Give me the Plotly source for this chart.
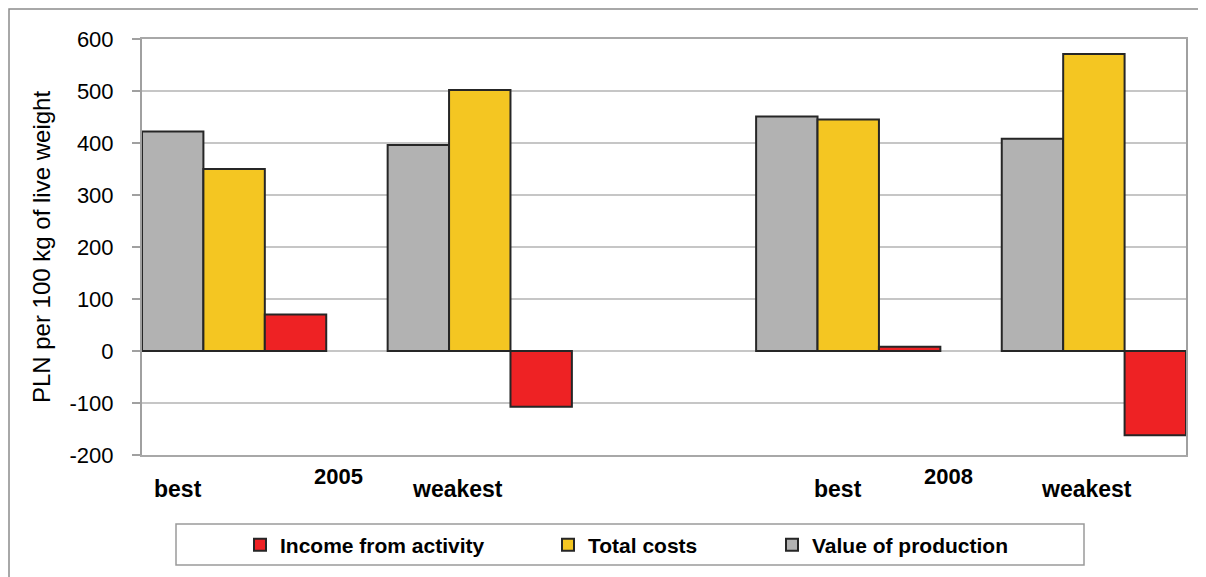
import plotly.graph_objects as go

# ---- data ----
group_labels = ["best", "weakest", "best", "weakest"]
year_labels = ["2005", "2008"]
value_of_production = [422, 396, 451, 408]
total_costs = [350, 502, 445, 571]
income_from_activity = [70, -107, 8, -162]
series_names = ["Value of production", "Total costs", "Income from activity"]
y_ticks = [-200, -100, 0, 100, 200, 300, 400, 500, 600]
y_tick_text = ["-200", "-100", "0", "100", "200", "300", "400", "500", "600"]

# ---- layout constants (positions / styles) ----
slot_centers = [0.75, 2.75, 5.75, 7.75]
group_label_x = [0.29, 2.57, 5.67, 7.69]
year_label_x = [1.60, 6.57]
colors = {"Value of production": "#B2B2B2", "Total costs": "#F4C622",
          "Income from activity": "#EE2224"}
legend_ids = {"Income from activity": "legend", "Total costs": "legend2",
              "Value of production": "legend3"}
FONT = "Liberation Sans, Arial, sans-serif"

# page body has an 8px margin: figure occupies page x 8..1206, y 8..577
PL, PT, PW, PH = 142, 39, 1044, 416  # plot area in page pixels


def px_x(p):
    return (p - PL) / PW


def px_y(p):
    return (PT + PH - p) / PH


fig = go.Figure()
for name, vals in zip(series_names,
                      [value_of_production, total_costs, income_from_activity]):
    fig.add_trace(go.Bar(
        x=slot_centers, y=vals, name=name,
        marker=dict(color=colors[name], line=dict(color="#262626", width=2)),
        legend=legend_ids[name],
    ))

annotations = []
for lbl, xv in zip(group_labels, group_label_x):
    annotations.append(dict(x=xv, y=px_y(489), xref="x", yref="paper", text=lbl,
                            showarrow=False, xanchor="center", yanchor="middle",
                            font=dict(family=FONT, size=23, color="black", weight="bold")))
for lbl, xv in zip(year_labels, year_label_x):
    annotations.append(dict(x=xv, y=px_y(476), xref="x", yref="paper", text=lbl,
                            showarrow=False, xanchor="center", yanchor="middle",
                            font=dict(family=FONT, size=22, color="black", weight="bold")))

shapes = [
    # outer chart border
    dict(type="rect", xref="paper", yref="paper",
         x0=px_x(9), x1=px_x(1230), y0=px_y(600), y1=px_y(9),
         line=dict(color="#8C8C8C", width=1.5), fillcolor="rgba(0,0,0,0)", layer="below"),
    # legend box
    dict(type="rect", xref="paper", yref="paper",
         x0=px_x(176), x1=px_x(1084), y0=px_y(565), y1=px_y(524),
         line=dict(color="#9A9A9A", width=1.5), fillcolor="rgba(0,0,0,0)", layer="below"),
]

legend_font = dict(family=FONT, size=21, color="black", weight="bold")


def leg(px):
    return dict(x=px_x(px), y=px_y(545), xanchor="left", yanchor="middle",
                orientation="h", font=legend_font, bgcolor="rgba(0,0,0,0)",
                borderwidth=0, itemclick=False)


fig.update_layout(
    width=1198, height=569,
    margin=dict(l=PL - 8, r=1206 - PL - PW, t=PT - 8, b=577 - PT - PH),
    paper_bgcolor="white", plot_bgcolor="white",
    barmode="group", bargap=0.25, bargroupgap=0,
    showlegend=True,
    legend=leg(240), legend2=leg(548), legend3=leg(772),
    xaxis=dict(range=[0, 8.5], showticklabels=False, showgrid=False, zeroline=False,
               showline=True, mirror=True, linecolor="#A8A8A8", linewidth=2, ticks=""),
    yaxis=dict(range=[-200, 600], tickvals=y_ticks, ticktext=y_tick_text,
               showgrid=True, gridcolor="#C6C6C6",
               gridwidth=1.5, zeroline=False, showline=True, mirror=True,
               linecolor="#A0A0A0", linewidth=2, ticks="outside", ticklen=8,
               tickcolor="#A0A0A0", tickwidth=2, ticklabelstandoff=14,
               tickfont=dict(family=FONT, size=22, color="black"),
               title=dict(text="PLN per 100 kg of live weight", standoff=12,
                          font=dict(family=FONT, size=24, color="black"))),
    annotations=annotations, shapes=shapes,
    font=dict(family=FONT),
)

fig.write_html("out.html")
